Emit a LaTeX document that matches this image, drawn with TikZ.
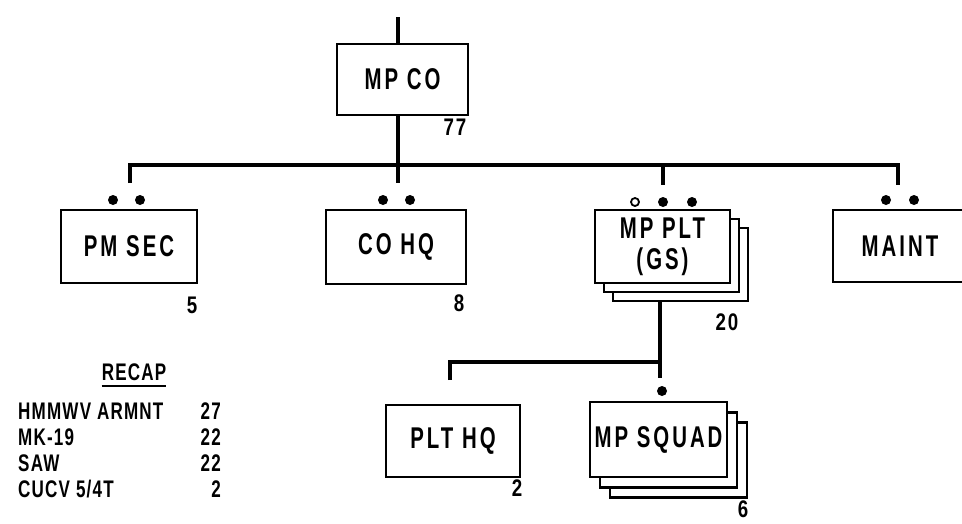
\documentclass[tikz,border=0pt]{standalone}
\usepackage{fontspec}
\setmainfont[FakeStretch=0.78,LetterSpace=8]{Liberation Sans}
\newfontfamily\boxfont[FakeStretch=0.68,LetterSpace=10]{Liberation Sans}
\newfontfamily\recapfont[FakeStretch=0.71,LetterSpace=5]{Liberation Sans}
\begin{document}
\begin{tikzpicture}[x=1pt,y=-1pt,
  box/.style={draw,line width=2.4pt,fill=white,minimum width=134pt,minimum height=72pt,inner sep=0pt,font=\boxfont\fontsize{30}{31}\selectfont\bfseries,align=center},
  lbl/.style={font=\fontsize{24}{26}\selectfont\bfseries,inner sep=0pt},
  rc/.style={font=\recapfont\fontsize{24}{26}\selectfont\bfseries,inner sep=0pt},
  dot/.style={circle,fill=black,inner sep=0pt,minimum size=10pt},
  odot/.style={circle,draw,line width=1.8pt,fill=white,inner sep=0pt,minimum size=8pt},
  wire/.style={line width=3.2pt}]
\useasboundingbox (0,0) rectangle (962,523);
% boxes
\node[box,minimum width=131pt,minimum height=71pt] (mpco) at (402.5,79.5) {MP CO};
\node[box,minimum width=136pt,minimum height=73pt] (pmsec) at (129,246.5) {PM SEC};
\node[box,minimum width=140pt,minimum height=74pt] (cohq) at (396,247) {CO HQ};
\node[box,minimum width=135pt,minimum height=73pt] (mpplt3) at (680.5,264.5) {};
\node[box,minimum width=135pt,minimum height=73pt] (mpplt2) at (671.5,255.5) {};
\node[box,minimum width=135pt,minimum height=73pt] (mpplt) at (662.5,246.5) {MP PLT\\(GS)};
\node[box,minimum width=134pt,minimum height=72pt] (maint) at (900,246) {MAINT};
\node[box,minimum width=134pt,minimum height=72pt] (plthq) at (453,441) {PLT HQ};
\node[box,minimum width=137pt,minimum height=75pt] (mpsq3) at (678.5,460) {};
\node[box,minimum width=137pt,minimum height=75pt] (mpsq2) at (668.5,450) {};
\node[box,minimum width=137pt,minimum height=75pt] (mpsq) at (658.5,439.5) {MP SQUAD};
% dots
\node[dot] (d1) at (113,200) {};
\node[dot] (d2) at (140,200) {};
\node[dot] (d3) at (383,200) {};
\node[dot] (d4) at (410,200) {};
\node[odot] (d5) at (635,202) {};
\node[dot] (d6) at (663,202) {};
\node[dot] (d7) at (692,202) {};
\node[dot] (d8) at (886,200) {};
\node[dot] (d9) at (914,200) {};
\node[dot] (d10) at (662,391) {};
% coordinates
\coordinate (top) at (398,17);
\coordinate (pmdrop) at (130,183);
\coordinate (codrop) at (398,183);
\coordinate (pltdrop) at (663,185);
\coordinate (busR) at (898,165);
\coordinate (maintdrop) at (898,185);
\coordinate (pltbus) at (663,165);
\coordinate (hqdrop) at (450,380);
\coordinate (sqjoin) at (660,362);
\coordinate (sqdrop) at (660,378);
% connectors
\draw[wire] (top) -- (top |- mpco.north);
\draw[wire] (pmdrop) |- (busR) -- (maintdrop);
\draw[wire] (top |- mpco.south) -- (codrop);
\draw[wire] (pltbus) -- (pltdrop);
\draw[wire] (sqjoin |- mpplt3.south) -- (sqdrop);
\draw[wire] (hqdrop) |- (sqjoin);
% numbers
\node[lbl] (n77) at (455,127) {77};
\node[lbl] (n5) at (192,305) {5};
\node[lbl] (n8) at (459,303) {8};
\node[lbl] (n20) at (727,322) {20};
\node[lbl] (n2) at (517,488) {2};
\node[lbl] (n6) at (743,509) {6};
% recap
\node[rc] (recap) at (134,372) {RECAP};
\draw[line width=2pt] (recap.south west)++(0,5) -- ++(64,0);
\node[rc,anchor=west] (r1) at (18,411) {HMMWV ARMNT};
\node[rc,anchor=west] (r2) at (18,437) {MK-19};
\node[rc,anchor=west] (r3) at (18,463) {SAW};
\node[rc,anchor=west] (r4) at (18,489) {CUCV 5/4T};
\node[rc,anchor=east] (v1) at (221,411) {27};
\node[rc,anchor=east] (v2) at (221,437) {22};
\node[rc,anchor=east] (v3) at (221,463) {22};
\node[rc,anchor=east] (v4) at (221,489) {2};
\end{tikzpicture}
\end{document}
